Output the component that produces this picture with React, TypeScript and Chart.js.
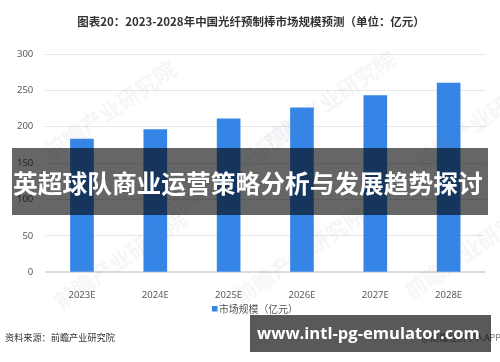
import React, { useEffect, useRef } from "react";
import { Chart, registerables } from "chart.js";
Chart.register(...registerables);

const categories = ["2023E", "2024E", "2025E", "2026E", "2027E", "2028E"];
const marketSize = [183, 196, 211, 226, 243, 260];
const yTickValues = [0, 50, 100, 150, 200, 250, 300];
const seriesLabel = "市场规模（亿元）";
const titleText = "图表20：2023-2028年中国光纤预制棒市场规模预测（单位：亿元）";
const bannerText = "英超球队商业运营策略分析与发展趋势探讨";
const sourceText = "资料来源：前瞻产业研究院";
const urlText = "www.intl-pg-emulator.com";
const appText = "@前瞻经济学人APP";
const watermarkText = "前瞻产业研究院";

const CJK = "'Noto Sans CJK SC', 'Noto Sans', sans-serif";

function fitFont(ctx: CanvasRenderingContext2D, text: string, weight: string, family: string, width: number) {
  ctx.font = `${weight} 100px ${family}`;
  const w = ctx.measureText(text).width;
  const size = (100 * width) / w;
  ctx.font = `${weight} ${size}px ${family}`;
}

const overlayPlugin = {
  id: "overlay",
  afterDatasetsDraw(chart: any) {
    const ctx: CanvasRenderingContext2D = chart.ctx;
    ctx.save();
    ctx.fillStyle = "rgba(120,130,150,0.07)";
    ctx.font = `bold 22px ${CJK}`;
    ctx.textAlign = "center";
    ctx.textBaseline = "middle";
    const spots = [
      [110, 110],
      [330, 100],
      [480, 120],
      [230, 170],
      [120, 260],
      [300, 255],
      [470, 250],
    ];
    for (const [x, y] of spots) {
      ctx.save();
      ctx.translate(x, y);
      ctx.rotate(-0.6);
      ctx.fillText(watermarkText, 0, 0);
      ctx.restore();
    }
    ctx.restore();
  },
  afterDraw(chart: any) {
    const ctx: CanvasRenderingContext2D = chart.ctx;
    ctx.save();
    // Title
    ctx.fillStyle = "#333333";
    ctx.textAlign = "center";
    ctx.textBaseline = "middle";
    fitFont(ctx, titleText, "bold", CJK, 348);
    ctx.fillText(titleText, 251, 22);

    // Legend
    const ds = chart.data.datasets[0];
    ctx.fillStyle = ds.backgroundColor;
    ctx.fillRect(212, 306, 5.5, 5.5);
    ctx.fillStyle = "#555555";
    ctx.textAlign = "left";
    fitFont(ctx, ds.label, "normal", CJK, 79);
    ctx.fillText(ds.label, 219, 309);

    // Source
    ctx.fillStyle = "#333333";
    fitFont(ctx, sourceText, "normal", CJK, 110);
    ctx.fillText(sourceText, 5, 338);

    // App text (mostly hidden)
    ctx.fillStyle = "#777777";
    ctx.textAlign = "right";
    ctx.font = `normal 9px ${CJK}`;
    ctx.fillText(appText, 501, 338);

    // Main banner
    ctx.fillStyle = "rgba(0,0,0,0.6)";
    ctx.fillRect(12, 148, 476, 67);
    ctx.fillStyle = "#ffffff";
    ctx.textAlign = "left";
    fitFont(ctx, bannerText, "bold", CJK, 470);
    ctx.fillText(bannerText, 13, 184);

    // URL banner
    ctx.fillStyle = "rgba(0,0,0,0.65)";
    ctx.fillRect(250, 315, 241, 37);
    ctx.fillStyle = "#ffffff";
    fitFont(ctx, urlText, "bold", "'Open Sans', sans-serif", 223);
    ctx.fillText(urlText, 257, 334);
    ctx.restore();
  },
};

export default function App() {
  const ref = useRef<HTMLCanvasElement>(null);
  useEffect(() => {
    if (!ref.current) return;
    const chart = new Chart(ref.current, {
      type: "bar",
      data: {
        labels: categories,
        datasets: [
          {
            label: seriesLabel,
            data: marketSize,
            backgroundColor: "#3585e6",
            barThickness: 23,
          },
        ],
      },
      options: {
        responsive: false,
        animation: false,
        devicePixelRatio: 1,
        layout: { padding: { left: 0, right: 14.7, top: 54, bottom: 59.7 } },
        plugins: { legend: { display: false }, tooltip: { enabled: false }, title: { display: false } },
        scales: {
          x: {
            grid: { display: false },
            border: { display: false },
            ticks: { color: "#595959", font: { family: "'Noto Sans', sans-serif", size: 9.5 }, padding: 9 },
            afterFit: (s: any) => {
              s.height = 30;
            },
          },
          y: {
            min: 0,
            max: 300,
            afterBuildTicks: (s: any) => {
              s.ticks = yTickValues.map((v) => ({ value: v }));
            },
            grid: {
              drawTicks: false,
              color: (c: any) => (c.tick && c.tick.value === 0 ? "#dddddd" : "#e6e6e6"),
              lineWidth: (c: any) => (c.tick && c.tick.value === 0 ? 2 : 1),
            },
            border: { display: false },
            ticks: { color: "#595959", font: { family: "'Noto Sans', sans-serif", size: 9.5 }, padding: 12 },
            afterFit: (s: any) => {
              s.width = 45.3;
            },
          },
        },
      },
      plugins: [overlayPlugin],
    });
    return () => chart.destroy();
  }, []);
  return (
    <div style={{ position: "absolute", left: 0, top: 0, width: 500, height: 362, background: "#fff" }}>
      <canvas ref={ref} width={500} height={362} style={{ display: "block", width: 500, height: 362 }} />
    </div>
  );
}
